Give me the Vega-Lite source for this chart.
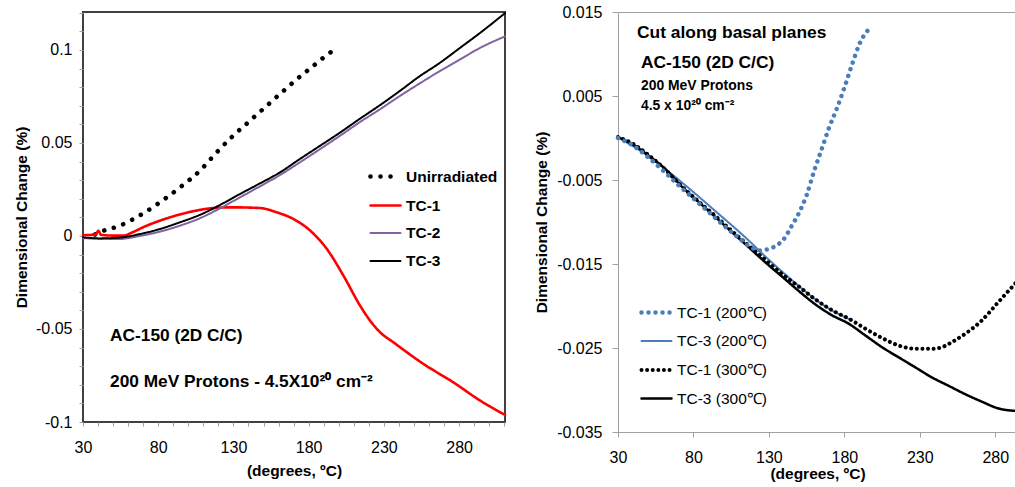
{
  "$schema": "https://vega.github.io/schema/vega-lite/v6.json",
  "padding": {"left": 13, "top": 3, "right": 0, "bottom": 0},
  "spacing": 26,
  "config": {
    "font": "Liberation Sans",
    "axis": {"labelFont": "Liberation Sans", "titleFont": "Liberation Sans", "labelFontSize": 16, "titleFontSize": 15.5, "titleFontWeight": "bold", "labelColor": "#000", "titleColor": "#000", "grid": false, "tickColor": "#a0a0a0", "labelOverlap": false, "labelFlush": false},
    "legend": {"labelFont": "Liberation Sans"},
    "text": {"font": "Liberation Sans"}
  },
  "datasets": {
    "left": [
      {"series": "Unirradiated", "t": 38, "d": 0.0008},
      {"series": "Unirradiated", "t": 41, "d": 0.002},
      {"series": "Unirradiated", "t": 54.4, "d": 0.0055},
      {"series": "Unirradiated", "t": 67.7, "d": 0.011},
      {"series": "Unirradiated", "t": 81, "d": 0.018},
      {"series": "Unirradiated", "t": 94.3, "d": 0.026},
      {"series": "Unirradiated", "t": 107.6, "d": 0.035},
      {"series": "Unirradiated", "t": 118.7, "d": 0.0448},
      {"series": "Unirradiated", "t": 129.7, "d": 0.0538},
      {"series": "Unirradiated", "t": 139.7, "d": 0.061},
      {"series": "Unirradiated", "t": 150.8, "d": 0.069},
      {"series": "Unirradiated", "t": 161.9, "d": 0.077},
      {"series": "Unirradiated", "t": 171.8, "d": 0.084},
      {"series": "Unirradiated", "t": 182.9, "d": 0.0913},
      {"series": "Unirradiated", "t": 194, "d": 0.0984},
      {"series": "Unirradiated", "t": 198.9, "d": 0.101},
      {"series": "TC-1", "t": 30, "d": 0.0005},
      {"series": "TC-1", "t": 36, "d": 0.0006},
      {"series": "TC-1", "t": 38.5, "d": 0.0008},
      {"series": "TC-1", "t": 40.2, "d": 0.0028},
      {"series": "TC-1", "t": 42, "d": 0.0006},
      {"series": "TC-1", "t": 50, "d": 0.0002},
      {"series": "TC-1", "t": 56.8, "d": 0.0002},
      {"series": "TC-1", "t": 63, "d": 0.002},
      {"series": "TC-1", "t": 70, "d": 0.0047},
      {"series": "TC-1", "t": 87.8, "d": 0.010},
      {"series": "TC-1", "t": 103.3, "d": 0.0133},
      {"series": "TC-1", "t": 116.6, "d": 0.015},
      {"series": "TC-1", "t": 129.9, "d": 0.0154},
      {"series": "TC-1", "t": 147.7, "d": 0.015},
      {"series": "TC-1", "t": 158.8, "d": 0.0127},
      {"series": "TC-1", "t": 169.9, "d": 0.0091},
      {"series": "TC-1", "t": 181, "d": 0.0029},
      {"series": "TC-1", "t": 192.1, "d": -0.007},
      {"series": "TC-1", "t": 203.1, "d": -0.0213},
      {"series": "TC-1", "t": 214.2, "d": -0.0375},
      {"series": "TC-1", "t": 220.8, "d": -0.0455},
      {"series": "TC-1", "t": 227.5, "d": -0.0518},
      {"series": "TC-1", "t": 236.4, "d": -0.0572},
      {"series": "TC-1", "t": 256.3, "d": -0.0688},
      {"series": "TC-1", "t": 276.2, "d": -0.0787},
      {"series": "TC-1", "t": 294, "d": -0.0885},
      {"series": "TC-1", "t": 310.5, "d": -0.0962},
      {"series": "TC-2", "t": 30, "d": -0.0012},
      {"series": "TC-2", "t": 54.4, "d": -0.0016},
      {"series": "TC-2", "t": 67.7, "d": 0.0},
      {"series": "TC-2", "t": 81, "d": 0.0023},
      {"series": "TC-2", "t": 94.3, "d": 0.0055},
      {"series": "TC-2", "t": 107.6, "d": 0.0095},
      {"series": "TC-2", "t": 120.9, "d": 0.0148},
      {"series": "TC-2", "t": 134.2, "d": 0.0207},
      {"series": "TC-2", "t": 147.5, "d": 0.0266},
      {"series": "TC-2", "t": 160.8, "d": 0.0327},
      {"series": "TC-2", "t": 174, "d": 0.0395},
      {"series": "TC-2", "t": 187.4, "d": 0.0466},
      {"series": "TC-2", "t": 200.7, "d": 0.0538},
      {"series": "TC-2", "t": 214, "d": 0.0612},
      {"series": "TC-2", "t": 227.2, "d": 0.068},
      {"series": "TC-2", "t": 240.5, "d": 0.0752},
      {"series": "TC-2", "t": 253.8, "d": 0.082},
      {"series": "TC-2", "t": 267.1, "d": 0.0886},
      {"series": "TC-2", "t": 280.4, "d": 0.0948},
      {"series": "TC-2", "t": 293.7, "d": 0.101},
      {"series": "TC-2", "t": 310.5, "d": 0.1073},
      {"series": "TC-3", "t": 30, "d": -0.0007},
      {"series": "TC-3", "t": 41, "d": -0.0013},
      {"series": "TC-3", "t": 54.4, "d": -0.0009},
      {"series": "TC-3", "t": 67.7, "d": 0.001},
      {"series": "TC-3", "t": 81, "d": 0.0037},
      {"series": "TC-3", "t": 94.3, "d": 0.0073},
      {"series": "TC-3", "t": 107.6, "d": 0.0113},
      {"series": "TC-3", "t": 120.9, "d": 0.0166},
      {"series": "TC-3", "t": 134.2, "d": 0.0225},
      {"series": "TC-3", "t": 147.5, "d": 0.0282},
      {"series": "TC-3", "t": 160.8, "d": 0.0341},
      {"series": "TC-3", "t": 174, "d": 0.0413},
      {"series": "TC-3", "t": 187.4, "d": 0.0484},
      {"series": "TC-3", "t": 200.7, "d": 0.0555},
      {"series": "TC-3", "t": 214, "d": 0.063},
      {"series": "TC-3", "t": 227.2, "d": 0.0702},
      {"series": "TC-3", "t": 240.5, "d": 0.0779},
      {"series": "TC-3", "t": 253.8, "d": 0.0859},
      {"series": "TC-3", "t": 267.1, "d": 0.093},
      {"series": "TC-3", "t": 280.4, "d": 0.101},
      {"series": "TC-3", "t": 293.7, "d": 0.109},
      {"series": "TC-3", "t": 310.5, "d": 0.1198}
    ],
    "right": [
      {"series": "TC-3 (200℃)", "t": 30, "d": 0.0001},
      {"series": "TC-3 (200℃)", "t": 50.3, "d": -0.0022},
      {"series": "TC-3 (200℃)", "t": 72.4, "d": -0.0053},
      {"series": "TC-3 (200℃)", "t": 94.5, "d": -0.0087},
      {"series": "TC-3 (200℃)", "t": 116.6, "d": -0.0122},
      {"series": "TC-3 (200℃)", "t": 127.6, "d": -0.0141},
      {"series": "TC-3 (200℃)", "t": 138.7, "d": -0.0159},
      {"series": "TC-3 (200℃)", "t": 149.7, "d": -0.0176},
      {"series": "TC-3 (200℃)", "t": 160.7, "d": -0.0192},
      {"series": "TC-3 (200℃)", "t": 169.6, "d": -0.0203},
      {"series": "TC-3 (200℃)", "t": 185, "d": -0.0217},
      {"series": "TC-3 (300℃)", "t": 30, "d": 0.0001},
      {"series": "TC-3 (300℃)", "t": 39.3, "d": -0.0007},
      {"series": "TC-3 (300℃)", "t": 50.3, "d": -0.0021},
      {"series": "TC-3 (300℃)", "t": 61.4, "d": -0.0037},
      {"series": "TC-3 (300℃)", "t": 72.4, "d": -0.0058},
      {"series": "TC-3 (300℃)", "t": 83.4, "d": -0.0076},
      {"series": "TC-3 (300℃)", "t": 94.5, "d": -0.0094},
      {"series": "TC-3 (300℃)", "t": 105.5, "d": -0.0112},
      {"series": "TC-3 (300℃)", "t": 116.6, "d": -0.013},
      {"series": "TC-3 (300℃)", "t": 127.6, "d": -0.0148},
      {"series": "TC-3 (300℃)", "t": 138.7, "d": -0.0165},
      {"series": "TC-3 (300℃)", "t": 149.7, "d": -0.0182},
      {"series": "TC-3 (300℃)", "t": 160.7, "d": -0.0198},
      {"series": "TC-3 (300℃)", "t": 171.8, "d": -0.0211},
      {"series": "TC-3 (300℃)", "t": 182.8, "d": -0.0221},
      {"series": "TC-3 (300℃)", "t": 193.9, "d": -0.0235},
      {"series": "TC-3 (300℃)", "t": 204.9, "d": -0.0249},
      {"series": "TC-3 (300℃)", "t": 215.9, "d": -0.0261},
      {"series": "TC-3 (300℃)", "t": 227, "d": -0.0273},
      {"series": "TC-3 (300℃)", "t": 238, "d": -0.0285},
      {"series": "TC-3 (300℃)", "t": 249.1, "d": -0.0295},
      {"series": "TC-3 (300℃)", "t": 260.1, "d": -0.0305},
      {"series": "TC-3 (300℃)", "t": 271.2, "d": -0.0314},
      {"series": "TC-3 (300℃)", "t": 282.2, "d": -0.0322},
      {"series": "TC-3 (300℃)", "t": 294.4, "d": -0.0325},
      {"series": "TC-1 (300℃)", "t": 30, "d": 0.0001},
      {"series": "TC-1 (300℃)", "t": 40, "d": -0.0007},
      {"series": "TC-1 (300℃)", "t": 50, "d": -0.002},
      {"series": "TC-1 (300℃)", "t": 61, "d": -0.0037},
      {"series": "TC-1 (300℃)", "t": 72, "d": -0.0057},
      {"series": "TC-1 (300℃)", "t": 83, "d": -0.0075},
      {"series": "TC-1 (300℃)", "t": 94, "d": -0.0092},
      {"series": "TC-1 (300℃)", "t": 105, "d": -0.011},
      {"series": "TC-1 (300℃)", "t": 116, "d": -0.0127},
      {"series": "TC-1 (300℃)", "t": 127, "d": -0.0144},
      {"series": "TC-1 (300℃)", "t": 138, "d": -0.0161},
      {"series": "TC-1 (300℃)", "t": 150, "d": -0.0177},
      {"series": "TC-1 (300℃)", "t": 160, "d": -0.0191},
      {"series": "TC-1 (300℃)", "t": 171.8, "d": -0.0205},
      {"series": "TC-1 (300℃)", "t": 182.8, "d": -0.0215},
      {"series": "TC-1 (300℃)", "t": 193.9, "d": -0.0227},
      {"series": "TC-1 (300℃)", "t": 204.9, "d": -0.0238},
      {"series": "TC-1 (300℃)", "t": 215.9, "d": -0.0247},
      {"series": "TC-1 (300℃)", "t": 227, "d": -0.0251},
      {"series": "TC-1 (300℃)", "t": 238, "d": -0.0251},
      {"series": "TC-1 (300℃)", "t": 244.7, "d": -0.0249},
      {"series": "TC-1 (300℃)", "t": 251.3, "d": -0.0243},
      {"series": "TC-1 (300℃)", "t": 260.1, "d": -0.0233},
      {"series": "TC-1 (300℃)", "t": 271.2, "d": -0.0217},
      {"series": "TC-1 (300℃)", "t": 282.2, "d": -0.0195},
      {"series": "TC-1 (300℃)", "t": 294.4, "d": -0.0171},
      {"series": "TC-1 (200℃)", "t": 30, "d": 0.0},
      {"series": "TC-1 (200℃)", "t": 40, "d": -0.0009},
      {"series": "TC-1 (200℃)", "t": 50, "d": -0.0023},
      {"series": "TC-1 (200℃)", "t": 60, "d": -0.0039},
      {"series": "TC-1 (200℃)", "t": 70, "d": -0.0056},
      {"series": "TC-1 (200℃)", "t": 80, "d": -0.0072},
      {"series": "TC-1 (200℃)", "t": 90, "d": -0.0088},
      {"series": "TC-1 (200℃)", "t": 100, "d": -0.0104},
      {"series": "TC-1 (200℃)", "t": 110, "d": -0.0119},
      {"series": "TC-1 (200℃)", "t": 118, "d": -0.013},
      {"series": "TC-1 (200℃)", "t": 124, "d": -0.0134},
      {"series": "TC-1 (200℃)", "t": 130, "d": -0.0132},
      {"series": "TC-1 (200℃)", "t": 135, "d": -0.0128},
      {"series": "TC-1 (200℃)", "t": 140, "d": -0.012},
      {"series": "TC-1 (200℃)", "t": 145, "d": -0.0105},
      {"series": "TC-1 (200℃)", "t": 150, "d": -0.0089},
      {"series": "TC-1 (200℃)", "t": 155, "d": -0.0068},
      {"series": "TC-1 (200℃)", "t": 160, "d": -0.0039},
      {"series": "TC-1 (200℃)", "t": 165, "d": -0.0013},
      {"series": "TC-1 (200℃)", "t": 170, "d": 0.0013},
      {"series": "TC-1 (200℃)", "t": 175, "d": 0.0035},
      {"series": "TC-1 (200℃)", "t": 180, "d": 0.006},
      {"series": "TC-1 (200℃)", "t": 185, "d": 0.0087},
      {"series": "TC-1 (200℃)", "t": 190, "d": 0.0112},
      {"series": "TC-1 (200℃)", "t": 195, "d": 0.0127},
      {"series": "TC-1 (200℃)", "t": 198, "d": 0.0132}
    ]
  },
  "hconcat": [
    {
      "width": 422,
      "height": 410,
      "view": {"stroke": "#404040", "strokeWidth": 2},
      "layer": [
        {
          "data": {"name": "left"},
          "mark": {"type": "line", "strokeCap": "round", "strokeJoin": "round", "interpolate": "monotone"},
          "encoding": {
            "x": {"field": "t", "type": "quantitative", "scale": {"domain": [30, 310.5], "nice": false, "zero": false},
              "axis": {"title": "(degrees, ºC)", "values": [30, 80, 130, 180, 230, 280], "labelOverlap": false, "domain": false, "tickSize": 4, "labelPadding": 13, "titlePadding": 8}},
            "y": {"field": "d", "type": "quantitative", "scale": {"domain": [-0.1, 0.1204], "nice": false, "zero": false},
              "axis": {"title": "Dimensional Change (%)", "values": [-0.1, -0.05, 0, 0.05, 0.1], "labelExpr": "'' + datum.value", "labelOverlap": false, "domain": false, "tickSize": 4, "labelPadding": 7, "titlePadding": 6}},
            "order": {"field": "t", "type": "quantitative"},
            "color": {"field": "series", "type": "nominal", "title": null,
              "scale": {"domain": ["Unirradiated", "TC-1", "TC-2", "TC-3"], "range": ["#000000", "#ff0000", "#8064a2", "#000000"]},
              "legend": {"orient": "none", "legendX": 285, "legendY": 147, "symbolType": "stroke", "symbolSize": 900, "labelFontSize": 15.5, "labelFontWeight": "bold", "labelOffset": 3, "rowPadding": 3, "encode": {"symbols": {"update": {"strokeCap": {"value": "round"}}}}}},
            "strokeDash": {"field": "series", "type": "nominal", "title": null,
              "scale": {"domain": ["Unirradiated", "TC-1", "TC-2", "TC-3"], "range": [[0.01, 10], [1, 0], [1, 0], [1, 0]]}},
            "strokeWidth": {"field": "series", "type": "nominal", "title": null,
              "scale": {"type": "ordinal", "domain": ["Unirradiated", "TC-1", "TC-2", "TC-3"], "range": [4.6, 2.6, 2, 2]}}
          }
        },
        {
          "data": {"values": [{"t": 48, "d": -0.0538, "label": "AC-150 (2D C/C)"}, {"t": 48, "d": -0.0785, "label": "200 MeV Protons - 4.5X10²⁰ cm⁻²"}]},
          "mark": {"type": "text", "align": "left", "baseline": "middle", "fontSize": 17.3, "fontWeight": "bold", "color": "#000"},
          "encoding": {
            "x": {"field": "t", "type": "quantitative", "axis": {"values": [40,50,60,70,90,100,110,120,140,150,160,170,190,200,210,220,240,250,260,270,290,300,310], "labels": false, "title": null, "domain": false, "tickSize": 4, "orient": "bottom"}},
            "y": {"field": "d", "type": "quantitative", "axis": {"values": [-0.09,-0.08,-0.07,-0.06,-0.04,-0.03,-0.02,-0.01,0.01,0.02,0.03,0.04,0.06,0.07,0.08,0.09,0.11,0.12], "labels": false, "title": null, "domain": false, "tickSize": 4, "orient": "left"}},
            "text": {"field": "label"}
          }
        }
      ],
      "resolve": {"axis": {"x": "independent", "y": "independent"}}
    },
    {
      "width": 399,
      "height": 420,
      "view": {"stroke": "#a0a0a0", "strokeWidth": 1},
      "layer": [
        {
          "data": {"name": "right"},
          "mark": {"type": "line", "strokeCap": "round", "strokeJoin": "round", "interpolate": "monotone"},
          "encoding": {
            "x": {"field": "t", "type": "quantitative", "scale": {"domain": [30, 294.4], "nice": false, "zero": false},
              "axis": {"title": "(degrees, ºC)", "values": [30, 80, 130, 180, 230, 280], "labelOverlap": false, "domain": false, "tickSize": 5, "labelPadding": 12, "titlePadding": 1}},
            "y": {"field": "d", "type": "quantitative", "scale": {"domain": [-0.035, 0.015], "nice": false, "zero": false},
              "axis": {"title": "Dimensional Change (%)", "values": [-0.035, -0.025, -0.015, -0.005, 0.005, 0.015], "labelExpr": "'' + datum.value", "labelOverlap": false, "domain": false, "tickSize": 6, "labelPadding": 10, "titlePadding": 7}},
            "order": {"field": "t", "type": "quantitative"},
            "color": {"field": "series", "type": "nominal", "title": null,
              "scale": {"domain": ["TC-1 (200℃)", "TC-3 (200℃)", "TC-1 (300℃)", "TC-3 (300℃)"], "range": ["#4a7ebb", "#4a7ebb", "#000000", "#000000"]},
              "legend": {"orient": "none", "legendX": 21, "legendY": 283, "symbolType": "stroke", "symbolSize": 900, "labelFontSize": 15.5, "labelFontWeight": "normal", "labelOffset": 3, "rowPadding": 3, "encode": {"symbols": {"update": {"strokeCap": {"value": "round"}}}}}},
            "strokeDash": {"field": "series", "type": "nominal", "title": null,
              "scale": {"domain": ["TC-1 (200℃)", "TC-3 (200℃)", "TC-1 (300℃)", "TC-3 (300℃)"], "range": [[0.01, 7], [1, 0], [0.01, 5.6], [1, 0]]}},
            "strokeWidth": {"field": "series", "type": "nominal", "title": null,
              "scale": {"type": "ordinal", "domain": ["TC-1 (200℃)", "TC-3 (200℃)", "TC-1 (300℃)", "TC-3 (300℃)"], "range": [4.5, 2, 4, 2.5]}}
          }
        },
        {
          "data": {"values": [{"t": 42.6, "d": 0.0125, "label": "Cut along basal planes"}, {"t": 45.2, "d": 0.0089, "label": "AC-150 (2D C/C)"}]},
          "mark": {"type": "text", "align": "left", "baseline": "middle", "fontSize": 17.4, "fontWeight": "bold", "color": "#000"},
          "encoding": {"x": {"field": "t", "type": "quantitative"}, "y": {"field": "d", "type": "quantitative"}, "text": {"field": "label"}}
        },
        {
          "data": {"values": [{"t": 45.2, "d": 0.0062, "label": "200 MeV Protons"}, {"t": 45.2, "d": 0.0038, "label": "4.5 x 10²⁰ cm⁻²"}]},
          "mark": {"type": "text", "align": "left", "baseline": "middle", "fontSize": 13.9, "fontWeight": "bold", "color": "#000"},
          "encoding": {"x": {"field": "t", "type": "quantitative"}, "y": {"field": "d", "type": "quantitative"}, "text": {"field": "label"}}
        }
      ]
    }
  ],
  "resolve": {"scale": {"x": "independent", "y": "independent", "color": "independent", "strokeDash": "independent", "strokeWidth": "independent"}, "legend": {"color": "independent", "strokeDash": "independent", "strokeWidth": "independent"}}
}
